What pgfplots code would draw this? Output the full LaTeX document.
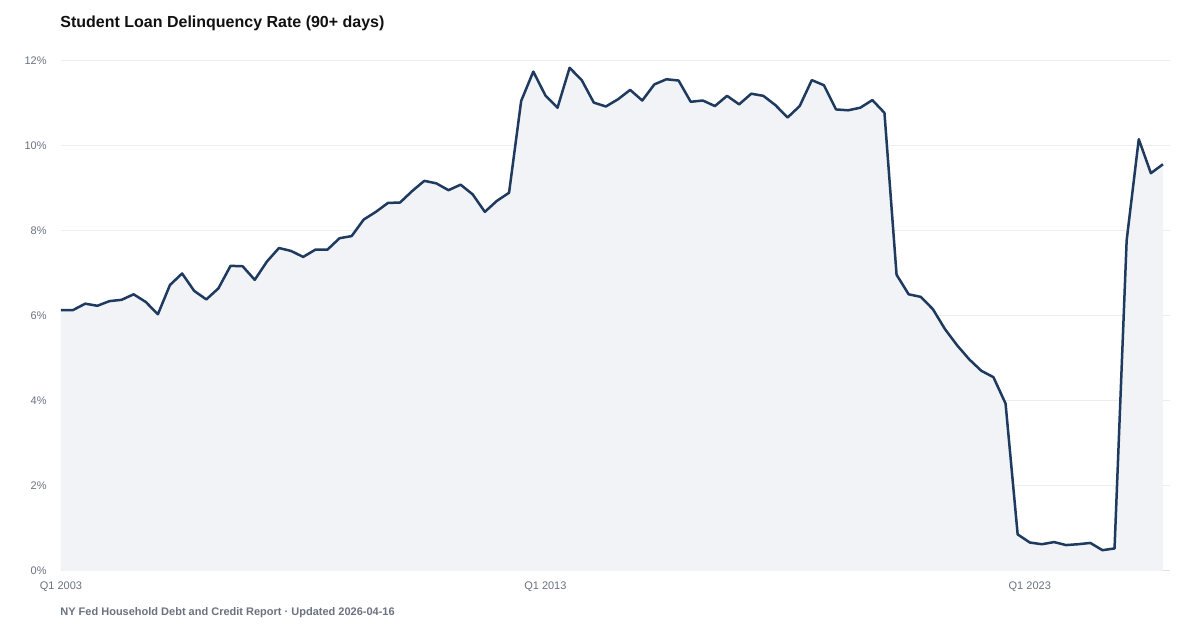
\documentclass[border=0pt]{standalone}
\usepackage{pgfplots}
\usepackage{pgfplotstable}
\pgfplotsset{compat=1.18}
\usepackage{fontspec}
\setmainfont{Liberation Sans}
\definecolor{linec}{RGB}{30,58,95}
\definecolor{fillc}{RGB}{241,243,246}
\definecolor{gridc}{RGB}{236,237,240}
\definecolor{basec}{RGB}{222,224,228}
\definecolor{tickc}{RGB}{107,114,128}
\definecolor{titlec}{RGB}{17,17,17}
\definecolor{footc}{RGB}{107,114,128}
\pgfplotstableread{
i v
0 6.14
1 6.14
2 6.29
3 6.24
4 6.35
5 6.38
6 6.51
7 6.33
8 6.04
9 6.73
10 7.00
11 6.59
12 6.39
13 6.65
14 7.18
15 7.17
16 6.85
17 7.28
18 7.60
19 7.53
20 7.39
21 7.56
22 7.56
23 7.83
24 7.88
25 8.27
26 8.45
27 8.66
28 8.67
29 8.94
30 9.18
31 9.12
32 8.96
33 9.09
34 8.86
35 8.45
36 8.71
37 8.90
38 11.06
39 11.75
40 11.19
41 10.90
42 11.84
43 11.55
44 11.02
45 10.93
46 11.10
47 11.32
48 11.07
49 11.45
50 11.57
51 11.54
52 11.04
53 11.07
54 10.94
55 11.18
56 10.98
57 11.23
58 11.18
59 10.96
60 10.67
61 10.94
62 11.55
63 11.43
64 10.86
65 10.84
66 10.90
67 11.08
68 10.78
69 6.97
70 6.51
71 6.45
72 6.16
73 5.69
74 5.31
75 4.98
76 4.71
77 4.56
78 3.94
79 0.86
80 0.67
81 0.63
82 0.68
83 0.61
84 0.63
85 0.66
86 0.49
87 0.53
88 7.78
89 10.16
90 9.36
91 9.57
}\data
\begin{document}
\begin{tikzpicture}[x=1pt,y=1pt]
\fill[white] (0,0) rectangle (600,315);
\begin{axis}[
  at={(30.5pt,29.5pt)}, anchor=south west,
  scale only axis, width=554.5pt, height=255pt,
  xmin=0, xmax=91.58, ymin=0, ymax=12,
  axis lines*=left,
  y axis line style={draw=none},
  x axis line style={draw=basec, line width=0.5pt},
  major tick length=0pt,
  ymajorgrids, grid style={draw=gridc, line width=0.5pt},
  ytick={0,2,4,6,8,10,12},
  yticklabel={\pgfmathprintnumber{\tick}\%},
  /pgf/number format/assume math mode=true,
  yticklabel style={font=\fontsize{5.5}{6}\selectfont, text=tickc, inner sep=0pt, xshift=-7pt, anchor=east},
  xtick={0,40,80},
  xticklabels={Q1 2003,Q1 2013,Q1 2023},
  xticklabel style={font=\fontsize{5.5}{6}\selectfont, text=tickc, inner sep=0pt, anchor=north, yshift=-5pt},
  clip=false,
]
\addplot[draw=none, fill=fillc] table[x=i,y=v] {\data} \closedcycle;
\addplot[linec, line width=1.25pt, line join=round, mark=none] table[x=i,y=v] {\data};
\end{axis}
\node[anchor=base west, inner sep=0pt, text=titlec, font=\fontsize{8}{9.6}\selectfont\bfseries] at (30,301.1) {Student Loan Delinquency Rate (90+ days)};
\node[anchor=base west, inner sep=0pt, text=footc, font=\fontsize{5.5}{6.6}\selectfont\bfseries] at (30,7.0) {NY Fed Household Debt and Credit Report · Updated 2026-04-16};
\end{tikzpicture}
\end{document}
